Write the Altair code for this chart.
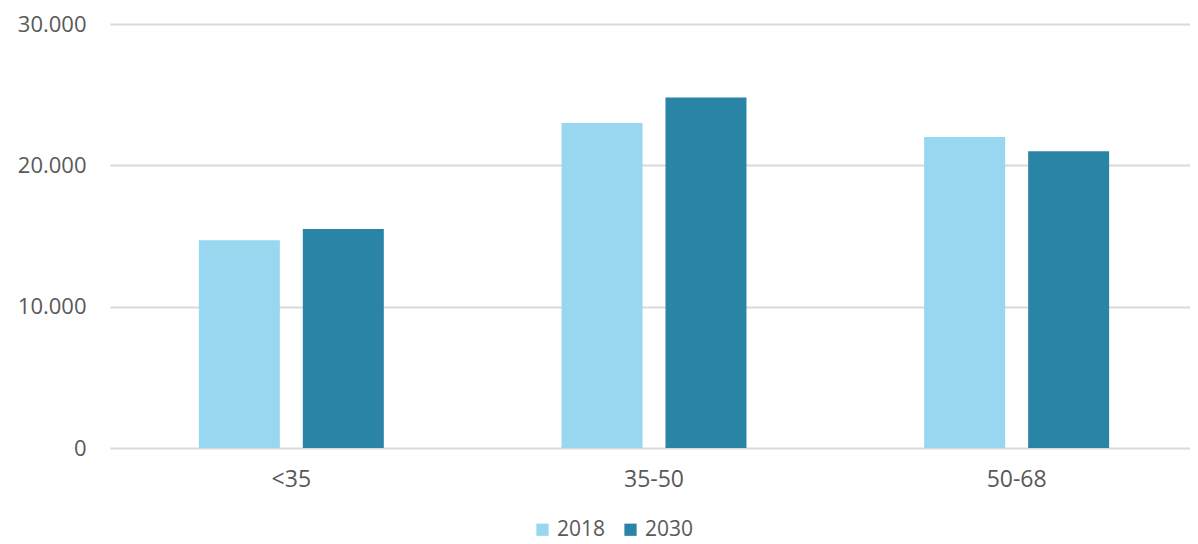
import altair as alt
import pandas as pd

categories = ["<35", "35-50", "50-68"]
years = ["2018", "2030"]
values_2018 = [14700, 23000, 22000]
values_2030 = [15500, 24800, 21000]
colors = ["#99D6F0", "#2A84A6"]

rows = []
for c, a, b in zip(categories, values_2018, values_2030):
    rows.append({"cat": c, "year": years[0], "value": a})
    rows.append({"cat": c, "year": years[1], "value": b})
df = pd.DataFrame(rows)

FONT = "Open Sans"
TXT = "#595959"

chart = alt.Chart(df).mark_bar().encode(
    x=alt.X("cat:N", sort=categories, title=None,
            scale=alt.Scale(paddingInner=0.49, paddingOuter=0.245, range=[0, 1088]),
            axis=alt.Axis(labelAngle=0, domain=False, ticks=False, labelPadding=20,
                          labelFont=FONT, labelFontSize=23, labelColor=TXT, grid=False)),
    xOffset=alt.XOffset("year:N", sort=years,
                        scale=alt.Scale(paddingInner=0.221, paddingOuter=0)),
    y=alt.Y("value:Q", title=None,
            scale=alt.Scale(domain=[0, 30000], nice=False),
            axis=alt.Axis(values=[0, 10000, 20000, 30000], domain=False, ticks=False,
                          labelPadding=24, labelFont=FONT, labelFontSize=22, labelColor=TXT,
                          gridColor="#D9D9D9", gridWidth=2,
                          labelExpr="replace(format(datum.value, ','), ',', '.')")),
    color=alt.Color("year:N", sort=years, title=None,
                    scale=alt.Scale(domain=years, range=colors),
                    legend=alt.Legend(orient="none", direction="horizontal",
                                      legendX=422, legendY=495,
                                      symbolType="square", symbolSize=150,
                                      symbolStrokeWidth=0, labelFont=FONT,
                                      labelFontSize=21, labelColor=TXT,
                                      labelOffset=4, columnPadding=14)),
).properties(
    width=1080, height=424,
    autosize=alt.AutoSizeParams(type="none"),
    padding={"left": 102, "top": 16, "right": 0, "bottom": 96},
).configure_view(stroke=None)

chart.save("out.html", embed_options={"renderer": "svg", "actions": False})
